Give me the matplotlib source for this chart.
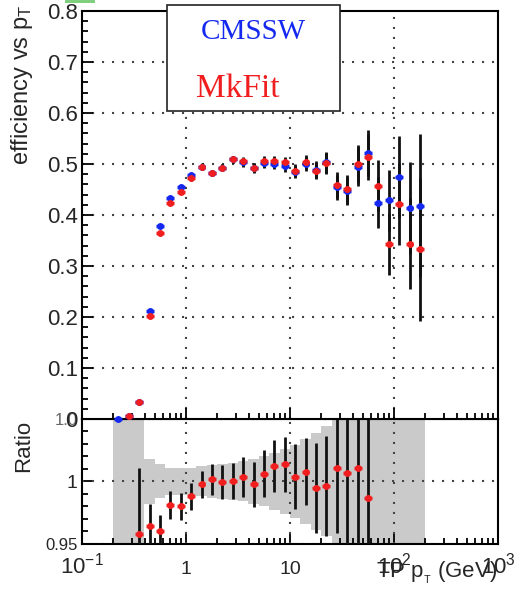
import matplotlib.pyplot as plt
import numpy as np
from matplotlib.ticker import FixedLocator, MultipleLocator, LogLocator, NullFormatter
from matplotlib.patches import Rectangle

plt.rcParams['font.family'] = ['Liberation Sans', 'DejaVu Sans']
plt.rcParams['mathtext.fontset'] = 'custom'
plt.rcParams['mathtext.rm'] = 'Liberation Sans'
plt.rcParams['mathtext.it'] = 'Liberation Sans:italic'

nan = np.nan

# bin centres (GeV)
pt = [0.224, 0.282, 0.355, 0.447, 0.562, 0.708, 0.891, 1.12, 1.41, 1.78,
      2.24, 2.82, 3.55, 4.47, 5.62, 7.08, 8.91, 11.2, 14.1, 17.8,
      22.4, 28.2, 35.5, 44.7, 56.2, 70.8, 89.1, 112.0, 141.0, 178.0]

eff_cmssw = [0.000, 0.005, 0.034, 0.212, 0.379, 0.433, 0.454, 0.478, 0.495, 0.482,
             0.493, 0.509, 0.503, 0.493, 0.502, 0.500, 0.496, 0.485, 0.500, 0.489,
             0.503, 0.454, 0.447, 0.495, 0.521, 0.424, 0.429, 0.474, 0.414, 0.418]
eff_mkfit = [nan, 0.005, 0.033, 0.2025, 0.364, 0.424, 0.445, 0.472, 0.494, 0.483,
             0.493, 0.509, 0.505, 0.492, 0.505, 0.506, 0.503, 0.487, 0.504, 0.486,
             0.501, 0.459, 0.450, 0.500, 0.514, 0.457, 0.343, 0.422, 0.344, 0.333]
eff_err = [0.002, 0.002, 0.003, 0.004, 0.004, 0.004, 0.004, 0.005, 0.006, 0.006,
           0.007, 0.007, 0.008, 0.009, 0.010, 0.010, 0.011, 0.012, 0.014, 0.016,
           0.020, 0.025, 0.028, 0.038, 0.045, 0.050, 0.060, 0.080, 0.090, 0.140]

ratio = [nan, nan, 0.958, 0.964, 0.960, 0.981, 0.980, 0.988, 0.9976, 1.0016,
         0.9995, 1.0003, 1.0038, 0.9976, 1.0062, 1.0123, 1.0136, 1.0038, 1.0078, 0.9944,
         0.9962, 1.0104, 1.007, 1.011, 0.9864, nan, nan, nan, nan, nan]
ratio_err = [nan, nan, 0.053, 0.018, 0.013, 0.011, 0.011, 0.011, 0.011, 0.0125,
             0.0135, 0.0145, 0.016, 0.018, 0.019, 0.021, 0.022, 0.026, 0.027, 0.036,
             0.040, 0.052, 0.080, 0.100, 0.120, nan, nan, nan, nan, nan]
# half width of grey uncertainty band in ratio panel
band = [0.2, 0.2, 0.2, 0.018, 0.0136, 0.011, 0.011, 0.011, 0.012, 0.013,
        0.014, 0.015, 0.016, 0.018, 0.020, 0.023, 0.026, 0.029, 0.034, 0.039,
        0.044, 0.2, 0.2, 0.2, 0.2, 0.2, 0.2, 0.2, 0.2, 0.2]

x = np.array(pt)
lx = np.log10(x)
mid = (lx[1:] + lx[:-1]) / 2
edges = 10 ** np.concatenate([[2 * lx[0] - mid[0]], mid, [2 * lx[-1] - mid[-1]]])
xe = [x * (1 - 10 ** -0.038), x * (10 ** 0.038 - 1)]

BLUE = '#1428f0'
RED = '#f01e1e'
grid_kw = dict(color='#444444', linestyle=(0, (1, 3.8)), linewidth=1.5)

W, H = 515, 597
fig = plt.figure(figsize=(5.15, 5.97), dpi=100)
ax2 = fig.add_axes([0.1592, 0.0888, 0.8078, 0.2094])
ax1 = fig.add_axes([0.1592, 0.2982, 0.8078, 0.6834])

for ax in (ax1, ax2):
    ax.set_xscale('log')
    ax.set_xlim(0.1, 1000)
    for s in ax.spines.values():
        s.set_linewidth(1.5)
    ax.xaxis.set_major_locator(FixedLocator([0.1, 1, 10, 100, 1000]))
    ax.xaxis.set_minor_locator(LogLocator(base=10, subs=range(2, 10)))
    ax.xaxis.set_minor_formatter(NullFormatter())
    ax.tick_params(which='both', direction='in', top=False, right=False, width=1.3)
    ax.tick_params(which='major', length=8)
    ax.tick_params(which='minor', length=4)

# ---- top panel
ax1.set_ylim(0, 0.8)
ax1.yaxis.set_minor_locator(MultipleLocator(0.02))
ax1.set_yticks([0, 0.1, 0.2, 0.3, 0.4, 0.5, 0.6, 0.7, 0.8])
ax1.set_yticklabels(['0', '0.1', '0.2', '0.3', '0.4', '0.5', '0.6', '0.7', '0.8'])
ax1.tick_params(axis='y', labelsize=16, pad=3, labelcolor='#262626')
ax1.tick_params(axis='x', labelbottom=False)
for v in [1, 10, 100]:
    ax1.axvline(v, **grid_kw, zorder=1)
for v in [0.1, 0.2, 0.3, 0.4, 0.5, 0.6, 0.7]:
    ax1.axhline(v, **grid_kw, zorder=1)

for eff, col in ((eff_cmssw, BLUE), (eff_mkfit, RED)):
    ax1.errorbar(x, eff, yerr=eff_err, fmt='none', ecolor='#111111', elinewidth=2,
                 capsize=0, zorder=3, clip_on=False)
    ax1.errorbar(x, eff, xerr=xe, fmt='o', color=col, ms=5, mew=0, elinewidth=2.5,
                 capsize=0, zorder=4, clip_on=False)

# ---- ratio panel
ax2.set_ylim(0.95, 1.05)
ax2.set_yticks([0.95, 1.0, 1.05])
ax2.set_yticklabels(['0.95', '1', '1.0'])
ax2.yaxis.set_minor_locator(MultipleLocator(0.01))
ax2.tick_params(axis='y', pad=3, labelcolor='#262626')
for lab, fs in zip(ax2.get_yticklabels(), [12, 14, 12]):
    lab.set_fontsize(fs)
ax2.yaxis.get_majorticklabels()[2].set_color('#666666')

lo = [1 - b for b in band]
hi = [1 + b for b in band]
ax2.stairs(hi, edges, baseline=lo, fill=True, color='#cacaca', zorder=1)
for v in [1, 10, 100]:
    ax2.axvline(v, **grid_kw, zorder=2)
ax2.axhline(1, **grid_kw, zorder=2)
ax2.axhline(0.95, **grid_kw, zorder=2)
ax2.errorbar(x, ratio, yerr=ratio_err, fmt='none', ecolor='#111111', elinewidth=2,
             capsize=0, zorder=3)
ax2.errorbar(x, ratio, xerr=xe, fmt='o', color=RED, ms=5, mew=0, elinewidth=2.5,
             capsize=0, zorder=4)

ax2.set_xticklabels(['$10^{-1}$', '1', '10', '$10^{2}$', '$10^{3}$'])
ax2.tick_params(axis='x', pad=21.5, labelcolor='#262626')
for lab, fs in zip(ax2.get_xticklabels(), [16, 14, 14, 16, 16]):
    lab.set_fontsize(fs)
    lab.set_verticalalignment('baseline')

# axis titles
fig.text(0.042, 1 - 165 / H, r'efficiency vs p$_{\mathrm{T}}$', rotation=90, ha='center',
         va='bottom', fontsize=17, color='#262626')
fig.text(0.046, 1 - 420 / H, 'Ratio', rotation=90, ha='center', va='top',
         fontsize=16, color='#262626')
fig.text(0.966, 1 - 578 / H, r'TP p$_{_\mathrm{T}}$ (GeV)', ha='right', va='baseline',
         fontsize=16, color='#262626')

# legend box
fig.add_artist(Rectangle((167 / W, 1 - 111 / H), 173 / W, 106 / H,
                         transform=fig.transFigure, facecolor='white',
                         edgecolor='#222222', linewidth=1.2, zorder=10))
fig.text(253.5 / W, 1 - 39 / H, 'CMSSW', ha='center', va='baseline', fontsize=21,
         family='Liberation Serif', color=BLUE, zorder=11)
fig.text(237.5 / W, 1 - 97 / H, 'MkFit', ha='center', va='baseline', fontsize=24,
         family='Liberation Serif', color=RED, zorder=11)

fig.add_artist(Rectangle((65 / W, 1 - 3 / H), 30 / W, 3 / H,
                         transform=fig.transFigure, facecolor='#7fcf7f',
                         edgecolor='none', zorder=10))

fig.savefig('out.png', dpi=100)
